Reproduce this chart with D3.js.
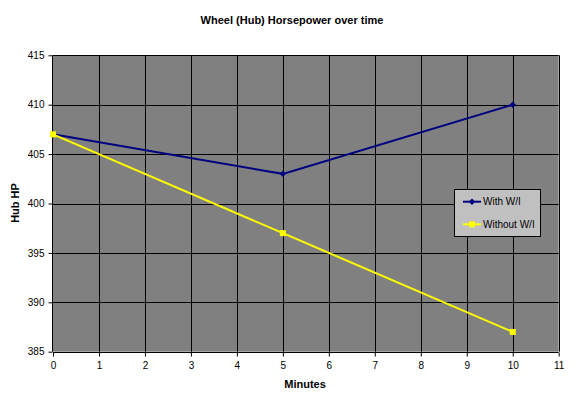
<!DOCTYPE html>
<html><head><meta charset="utf-8">
<script src="https://cdn.jsdelivr.net/npm/d3@7"></script>
<style>body{margin:0;background:#fff}svg{display:block}text{font-family:"Liberation Sans",Arial,sans-serif}</style>
</head><body>
<svg id="c" width="585" height="400"></svg>
<script>
const minutes = [0, 5, 10];
const withWI = [407, 403, 410];
const withoutWI = [407, 397, 387];
const xTicks = [0,1,2,3,4,5,6,7,8,9,10,11];
const yTicks = [385,390,395,400,405,410,415];
const seriesNames = ["With W/I", "Without W/I"];

const svg = d3.select("#c");
const L = 53, R = 558.7, T = 55.3, B = 351.7;
const x = d3.scaleLinear().domain([0, 11]).range([L, R]);
const y = d3.scaleLinear().domain([385, 415]).range([B, T]);

svg.append("rect").attr("x", L).attr("y", T).attr("width", R - L).attr("height", B - T).attr("fill", "#808080");

// grid
svg.append("g").selectAll("line").data(xTicks.slice(1)).join("line")
  .attr("x1", d => Math.round(x(d)) + 0.5).attr("x2", d => Math.round(x(d)) + 0.5)
  .attr("y1", T).attr("y2", B).attr("stroke", "#000").attr("stroke-width", 1);
svg.append("g").selectAll("line").data(yTicks.slice(1)).join("line")
  .attr("y1", d => Math.round(y(d)) + 0.5).attr("y2", d => Math.round(y(d)) + 0.5)
  .attr("x1", L).attr("x2", R).attr("stroke", "#000").attr("stroke-width", 1);

// axes
const xAxis = d3.axisBottom(x).tickValues(xTicks).tickSize(4).tickPadding(5).tickFormat(d3.format("d"));
const yAxis = d3.axisLeft(y).tickValues(yTicks).tickSize(4).tickPadding(4).tickFormat(d3.format("d"));
const gx = svg.append("g").attr("transform", `translate(0,${Math.round(B)+0.5})`).call(xAxis);
const gy = svg.append("g").attr("transform", `translate(${Math.round(L)-0.5},0)`).call(yAxis);
[gx, gy].forEach(g => {
  g.selectAll("path,line").attr("stroke", "#000");
  g.selectAll("text").attr("font-size", 10).attr("fill", "#000").attr("font-family", "Liberation Sans, Arial, sans-serif");
});
gx.select(".domain").attr("d", `M${L},0H${R}`);
gy.select(".domain").attr("d", `M0,${T}V${B}`);

// lines
const line = d3.line().x((d, i) => x(minutes[i])).y(d => y(d));
svg.append("path").datum(withWI).attr("d", line).attr("fill", "none").attr("stroke", "#000080").attr("stroke-width", 2);
svg.append("path").datum(withoutWI).attr("d", line).attr("fill", "none").attr("stroke", "#ffff00").attr("stroke-width", 2);

// markers
svg.append("g").selectAll("path").data(withWI).join("path")
  .attr("d", d3.symbol(d3.symbolDiamond2, 26))
  .attr("transform", (d, i) => `translate(${x(minutes[i])},${y(d)})`)
  .attr("fill", "#000080");
svg.append("g").selectAll("rect").data(withoutWI).join("rect")
  .attr("x", (d, i) => x(minutes[i]) - 3).attr("y", d => y(d) - 3)
  .attr("width", 6).attr("height", 6).attr("fill", "#ffff00");

// legend
const lg = svg.append("g");
lg.append("rect").attr("x", 454.5).attr("y", 189.5).attr("width", 86).attr("height", 47)
  .attr("fill", "#c0c0c0").attr("stroke", "#000").attr("stroke-width", 1);
const rows = [201.7, 224.3];
const colors = ["#000080", "#ffff00"];
seriesNames.forEach((n, i) => {
  lg.append("line").attr("x1", 463).attr("x2", 481).attr("y1", rows[i]).attr("y2", rows[i])
    .attr("stroke", colors[i]).attr("stroke-width", 2);
  if (i === 0) {
    lg.append("path").attr("d", d3.symbol(d3.symbolDiamond2, 26)).attr("transform", `translate(472,${rows[i]})`).attr("fill", colors[i]);
  } else {
    lg.append("rect").attr("x", 469).attr("y", rows[i] - 3).attr("width", 6).attr("height", 6).attr("fill", colors[i]);
  }
  lg.append("text").attr("x", 483).attr("y", rows[i]).attr("dy", "0.35em").attr("font-size", 10).attr("fill", "#000").text(n);
});

// titles
svg.append("text").attr("x", 292).attr("y", 20).attr("dy", "0.35em").attr("text-anchor", "middle")
  .attr("font-size", 11).attr("font-weight", "bold").text("Wheel (Hub) Horsepower over time");
svg.append("text").attr("x", 305).attr("y", 384).attr("dy", "0.35em").attr("text-anchor", "middle")
  .attr("font-size", 11).attr("font-weight", "bold").text("Minutes");
svg.append("text").attr("transform", "translate(15,203) rotate(-90)").attr("dy", "0.35em").attr("text-anchor", "middle")
  .attr("font-size", 11).attr("font-weight", "bold").text("Hub HP");
</script>
</body></html>
